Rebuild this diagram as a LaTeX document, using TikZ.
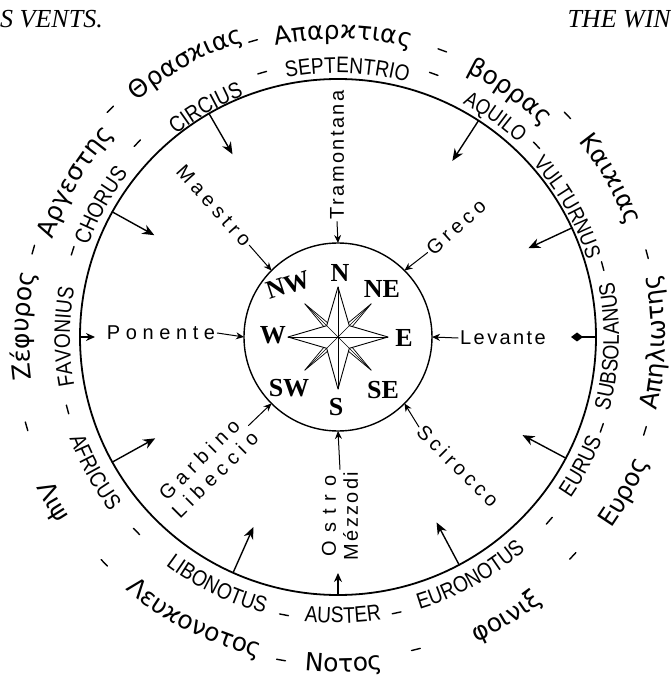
\documentclass[tikz,border=0pt]{standalone}
\usepackage{fontspec}
\usetikzlibrary{arrows.meta,decorations.text}
\newfontfamily\latfam[FakeStretch=0.85]{Liberation Sans}
\newfontfamily\grkfam{DejaVu Sans}
\newfontfamily\itafam{Liberation Sans}
\newfontfamily\serfam{Liberation Serif}
\newcommand\latring{\latfam\fontsize{22.5}{22.5}\selectfont}
\newcommand\latsmall{\latfam\fontsize{21.5}{21.5}\selectfont}
\newcommand\grkring{\grkfam\fontsize{25}{25}\selectfont}
\newcommand\ringcw[4]{\path[decorate,decoration={text along path,text align=center,text={|#3|#4}}] (#1+40:#2) arc[start angle=#1+40,end angle=#1-40,radius=#2];}
\newcommand\ringccw[4]{\path[decorate,decoration={text along path,text align=center,text={|#3|#4}}] (#1-40:#2) arc[start angle=#1-40,end angle=#1+40,radius=#2];}
\newcommand\ringdash[2]{\draw[ringdashline,rotate=#1] (#2,-4.5) -- (#2,4.5);}
\tikzset{
  itname/.style={font=\itafam\fontsize{20}{22}\selectfont\addfontfeature{LetterSpace=#1}, inner sep=2pt},
  itname/.default=22,
  rosel/.style={font=\serfam\bfseries\fontsize{26}{26}\selectfont, inner sep=0pt},
  titlefont/.style={font=\serfam\itshape\fontsize{26}{26}\selectfont, inner sep=0pt},
  outarrow/.style={line width=1.4pt, -{Stealth[length=12pt,width=10pt]}},
  shortarrow/.style={line width=1.4pt, -{Stealth[length=9pt,width=8pt]}},
  inarrow/.style={line width=1pt, -{Stealth[length=8pt,width=7pt]}},
  ringdashline/.style={line width=1.4pt},
  rosemain/.style={line width=0.9pt, fill=white},
  rosethin/.style={line width=0.7pt, fill=white},
  rosehair/.style={line width=0.4pt}
}
\begin{document}
\begin{tikzpicture}[x=1pt,y=1pt,line cap=round,line join=round]
\useasboundingbox (-338,-343) rectangle (333,337);

% titles
\node[titlefont, anchor=base west] (tl) at (-338,309) {S VENTS.};
\node[titlefont, anchor=base east] (tr) at (333,309) {THE WIN};

% circles
\node[draw, circle, line width=1.8pt, minimum size=516pt, inner sep=0pt, outer sep=0pt] (big) at (0,0) {};
\node[draw, circle, line width=1.4pt, minimum size=188pt, inner sep=0pt, outer sep=0pt] (small) at (0,0) {};

% compass rose
\foreach \a in {45,135,225,315} {
  \draw[rosethin] (\a:47) -- (\a+14:13) -- (0,0) -- (\a-14:13) -- cycle;
  \draw[rosehair] (0,0) -- (\a:47);
}
\draw[rosemain] (0:50) -- (45:16) -- (90:50) -- (135:16) -- (180:50) -- (225:16) -- (270:52) -- (315:16) -- cycle;
\foreach \a in {0,90,180} \draw[rosehair] (0,0) -- (\a:50);
\draw[rosehair] (0,0) -- (270:52);
\foreach \a in {45,135,225,315} \draw[rosehair] (0,0) -- (\a:16);

\node[rosel] (lN) at (2,64) {N};
\node[rosel, rotate=18] (lNW) at (-50,52) {NW};
\node[rosel] (lNE) at (44,48) {NE};
\node[rosel] (lW) at (-65,2) {W};
\node[rosel] (lE) at (66,-1) {E};
\node[rosel] (lSW) at (-49,-51) {SW};
\node[rosel] (lS) at (-2,-70) {S};
\node[rosel] (lSE) at (45,-53) {SE};

% italian names and inner arrows
\node[itname=28] (pon) at (-177,4) {Ponente};
\node[itname=12] (lev) at (165,-1) {Levante};
\node[itname=12, rotate=90] (tram) at (-1,182) {Tramontana};
\node[itname=22, rotate=42] (greco) at (118,110) {Greco};
\node[itname=21, rotate=-45] (scir) at (120,-129) {Scirocco};
\node[itname=24, rotate=-48] (maes) at (-124,131) {Maestro};
\node[itname=28, rotate=45, align=center] (garb) at (-131,-130) {Garbino\\Libeccio};
\node[itname=12, rotate=90, align=center] (ostro) at (2,-179) {{\addfontfeature{LetterSpace=40}Ostro}\\Mézzodi};

\draw[inarrow] (pon.east) -- (small.180);
\draw[inarrow] (lev.west) -- (small.0);
\draw[inarrow] (tram.west) -- (small.90);
\draw[inarrow] (greco.west) -- (small.45);
\draw[inarrow] (scir.west) -- (small.-45);
\draw[inarrow] (maes.east) -- (small.135);
\draw[inarrow] (garb.east) -- (small.-135);
\draw[inarrow] (ostro.east) -- (small.-90);

% outer arrows
\coordinate (eCirc) at (120:211);
\coordinate (eChor) at (151:210);
\coordinate (eAfri) at (-151:209);
\coordinate (eLibo) at (-114:208);
\coordinate (eEuno) at (-62:210);
\coordinate (eEuru) at (-28:209);
\coordinate (eVult) at (25:210);
\coordinate (eAqui) at (57:210);
\coordinate (eFavo) at (180:243);
\coordinate (eAust) at (-90:236);
\coordinate (eSubs) at (0:233);
\draw[outarrow] (big.120) -- (eCirc);
\draw[outarrow] (big.151) -- (eChor);
\draw[outarrow] (big.-151) -- (eAfri);
\draw[outarrow] (big.-114) -- (eLibo);
\draw[outarrow] (big.-62) -- (eEuno);
\draw[outarrow] (big.-28) -- (eEuru);
\draw[outarrow] (big.25) -- (eVult);
\draw[outarrow] (big.57) -- (eAqui);
\draw[shortarrow] (big.180) -- (eFavo);
\draw[shortarrow] (big.-90) -- (eAust);
\draw[line width=1.4pt, -{Diamond[length=12pt,width=9pt]}] (big.0) -- (eSubs);

% latin ring
\ringcw{88}{264}{\latring}{SEPTENTRIO}
\ringcw{54.5}{265}{\latsmall}{AQUILO}
\ringcw{29.5}{261}{\latsmall}{VULTURNUS}
\ringcw{120}{259}{\latring}{CIRCIUS}
\ringcw{151}{266}{\latring}{CHORUS}
\ringcw{180}{268}{\latring}{FAVONIUS}
\ringccw{-2}{281}{\latring}{SUBSOLANUS}
\ringccw{-28}{283}{\latring}{EURUS}
\ringccw{-61}{284}{\latring}{EURONOTUS}
\ringccw{-89}{286}{\latring}{AUSTER}
\ringccw{-116}{286}{\latring}{LIBONOTUS}
\ringccw{-151}{287}{\latring}{AFRICUS}

\ringdash{106}{275}
\ringdash{70}{280}
\ringdash{44}{276}
\ringdash{15}{274}
\ringdash{-19}{279}
\ringdash{-41}{280}
\ringdash{-78}{282}
\ringdash{-101}{283}
\ringdash{-136}{280}
\ringdash{-165}{280}
\ringdash{162}{279}
\ringdash{136}{279}

% greek ring
\ringcw{89}{298}{\grkring}{Απαρϰτιας}
\ringcw{55}{294}{\grkring}{βορρας}
\ringcw{30}{310}{\grkring}{Καιϰιας}
\ringcw{119}{310}{\grkring}{Θρασϰιας}
\ringcw{149.5}{302}{\grkring}{Αργεστης}
\ringcw{178}{309}{\grkring}{Ζέφυρος}
\ringccw{-1}{327}{\grkring}{Απηλιωτης}
\ringccw{-28.5}{334}{\grkring}{Ευρος}
\ringccw{-59}{335}{\grkring}{φοινιξ}
\ringccw{-89}{335}{\grkring}{Νοτος}
\ringccw{-117}{330}{\grkring}{Λευϰονοτος}
\ringccw{-150}{337}{\grkring}{Λιψ}

\ringdash{106}{308}
\ringdash{70}{305}
\ringdash{44}{319}
\ringdash{15}{320}
\ringdash{-17}{321}
\ringdash{-43}{321}
\ringdash{-76}{322}
\ringdash{-100}{328}
\ringdash{-136}{325}
\ringdash{-164}{324}
\ringdash{164}{317}
\ringdash{135}{322}
\end{tikzpicture}
\end{document}
